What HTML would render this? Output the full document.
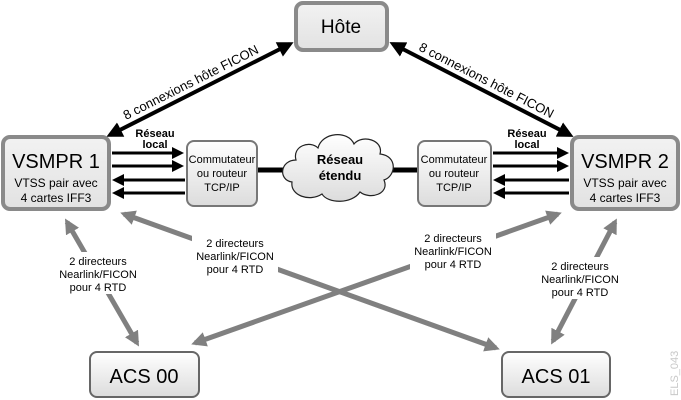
<!DOCTYPE html>
<html><head><meta charset="utf-8"><style>
body{margin:0;background:#fff;}
svg{display:block;font-family:"Liberation Sans",sans-serif;}
</style></head><body>
<svg width="681" height="400" viewBox="0 0 681 400" xmlns="http://www.w3.org/2000/svg">
<defs>
<linearGradient id="bx" x1="0" y1="0" x2="0" y2="1"><stop offset="0" stop-color="#f2f2f2"/><stop offset="1" stop-color="#e2e2e2"/></linearGradient>
<linearGradient id="sw" x1="0" y1="0" x2="0" y2="1"><stop offset="0" stop-color="#ffffff"/><stop offset="1" stop-color="#dcdcdc"/></linearGradient>
<marker id="ab" markerWidth="4" markerHeight="4" refX="3" refY="2" orient="auto-start-reverse" markerUnits="strokeWidth"><path d="M0,0 L4,2 L0,4 Z" fill="#000"/></marker>
<marker id="ag" markerWidth="3" markerHeight="3" refX="2.2" refY="1.5" orient="auto-start-reverse" markerUnits="strokeWidth"><path d="M0,0 L3,1.5 L0,3 Z" fill="#808080"/></marker>
</defs>

<!-- gray arrows -->
<g stroke="#808080" stroke-width="5" fill="none">
<line x1="67" y1="222" x2="137" y2="343" marker-start="url(#ag)" marker-end="url(#ag)"/>
<line x1="124" y1="214" x2="496" y2="348" marker-start="url(#ag)" marker-end="url(#ag)"/>
<line x1="558" y1="214" x2="195" y2="343" marker-start="url(#ag)" marker-end="url(#ag)"/>
<line x1="615" y1="222" x2="553" y2="341" marker-start="url(#ag)" marker-end="url(#ag)"/>
</g>
<g font-size="11" text-anchor="middle" fill="#000">
<rect x="58" y="252" width="80" height="42" fill="#fff"/>
<text x="98" y="265">2 directeurs</text><text x="98" y="278">Nearlink/FICON</text><text x="98" y="291">pour 4 RTD</text>
<rect x="192" y="234" width="86" height="42" fill="#fff"/>
<text x="235" y="247">2 directeurs</text><text x="235" y="260">Nearlink/FICON</text><text x="235" y="273">pour 4 RTD</text>
<rect x="410" y="229" width="86" height="42" fill="#fff"/>
<text x="453" y="242">2 directeurs</text><text x="453" y="255">Nearlink/FICON</text><text x="453" y="268">pour 4 RTD</text>
<rect x="538" y="257" width="84" height="42" fill="#fff"/>
<text x="580" y="270">2 directeurs</text><text x="580" y="283">Nearlink/FICON</text><text x="580" y="296">pour 4 RTD</text>
</g>

<!-- host arrows -->
<g stroke="#000" stroke-width="4" fill="none">
<line x1="110" y1="135" x2="290" y2="44" marker-start="url(#ab)" marker-end="url(#ab)"/>
<line x1="393" y1="44" x2="570" y2="135" marker-start="url(#ab)" marker-end="url(#ab)"/>
</g>
<text font-size="13" transform="translate(126,120) rotate(-26.8)">8 connexions hôte FICON</text>
<text font-size="13" transform="translate(418,50) rotate(27.2)">8 connexions hôte FICON</text>

<!-- LAN lines -->
<g stroke="#000" stroke-width="3">
<line x1="112" y1="153" x2="181" y2="153" marker-end="url(#ab)"/>
<line x1="112" y1="166" x2="181" y2="166" marker-end="url(#ab)"/>
<line x1="185" y1="180" x2="115" y2="180" marker-end="url(#ab)"/>
<line x1="185" y1="193" x2="115" y2="193" marker-end="url(#ab)"/>
<line x1="493" y1="153" x2="566" y2="153" marker-end="url(#ab)"/>
<line x1="493" y1="166" x2="566" y2="166" marker-end="url(#ab)"/>
<line x1="569" y1="180" x2="496" y2="180" marker-end="url(#ab)"/>
<line x1="569" y1="193" x2="496" y2="193" marker-end="url(#ab)"/>
</g>
<g stroke="#000" stroke-width="5"><line x1="258" y1="170" x2="290" y2="170"/><line x1="388" y1="170" x2="418" y2="170"/></g>
<g font-size="11" font-weight="bold" text-anchor="middle">
<text x="155" y="137">Réseau</text><text x="155" y="148">local</text>
<text x="527" y="137">Réseau</text><text x="527" y="148">local</text>
</g>

<!-- cloud -->
<path d="M292,182 C278,180 280,160 296,160 C292,146 310,140 318,148 C322,132 348,130 354,144 C362,134 384,140 380,154 C398,156 396,176 384,180 C390,194 370,200 360,192 C352,204 328,204 322,194 C310,202 290,196 292,182 Z" fill="url(#sw)" stroke="#222" stroke-width="1.2"/>
<text x="340" y="164" font-size="13" font-weight="bold" text-anchor="middle">Réseau</text>
<text x="340" y="180" font-size="13" font-weight="bold" text-anchor="middle">étendu</text>

<!-- switches -->
<rect x="187" y="141" width="70" height="65" rx="7" fill="url(#sw)" stroke="#777" stroke-width="2"/>
<rect x="418" y="141" width="73" height="65" rx="7" fill="url(#sw)" stroke="#777" stroke-width="2"/>
<g font-size="11" text-anchor="middle">
<text x="222" y="163">Commutateur</text><text x="222" y="177">ou routeur</text><text x="222" y="191">TCP/IP</text>
<text x="454" y="163">Commutateur</text><text x="454" y="177">ou routeur</text><text x="454" y="191">TCP/IP</text>
</g>

<!-- main boxes -->
<g fill="url(#bx)" stroke="#8a8a8a" stroke-width="4">
<rect x="296" y="3" width="91" height="47" rx="7"/>
<rect x="3" y="137" width="106" height="72" rx="7"/>
<rect x="572" y="137" width="106" height="72" rx="7"/>
</g>
<g fill="url(#sw)" stroke="#666" stroke-width="2">
<rect x="90" y="352" width="109" height="45" rx="7"/>
<rect x="502" y="352" width="108" height="45" rx="7"/>
</g>
<g text-anchor="middle">
<text x="341" y="33" font-size="19">Hôte</text>
<text x="56" y="168" font-size="20">VSMPR 1</text>
<text x="56" y="187" font-size="12">VTSS pair avec</text>
<text x="56" y="202" font-size="12">4 cartes  IFF3</text>
<text x="625" y="168" font-size="20">VSMPR 2</text>
<text x="625" y="187" font-size="12">VTSS pair avec</text>
<text x="625" y="202" font-size="12">4 cartes  IFF3</text>
<text x="144" y="383" font-size="20">ACS 00</text>
<text x="556" y="383" font-size="20">ACS 01</text>
</g>
<text transform="translate(678,396) rotate(-90)" font-size="11" fill="#c8c8c8">ELS_043</text>
</svg>
</body></html>
